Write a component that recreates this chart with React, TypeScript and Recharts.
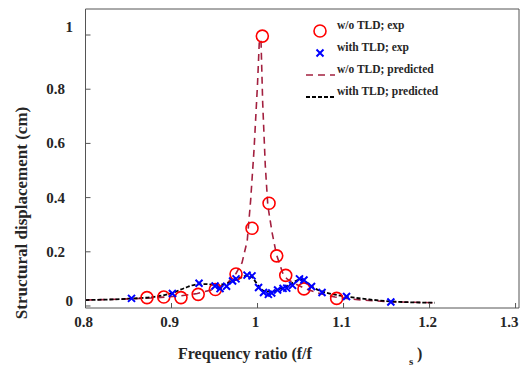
import React from "react";
import { ComposedChart, Line, Scatter, XAxis, YAxis } from "recharts";

// tick values
const xTicks = [0.8, 0.9, 1, 1.1, 1.2, 1.3];
const yTicks = [0, 0.2, 0.4, 0.6, 0.8, 1];

// w/o TLD; exp
const noTldExpFreq = [0.8715, 0.891, 0.911, 0.931, 0.951, 0.975, 0.9936, 1.0056, 1.0134, 1.0223, 1.0328, 1.054, 1.092];
const noTldExpDisp = [0.031, 0.033, 0.031, 0.043, 0.061, 0.118, 0.287, 0.996, 0.379, 0.185, 0.113, 0.063, 0.028];

// with TLD; exp
const tldExpFreq = [
  0.8535, 0.901, 0.932, 0.9506, 0.9564, 0.964, 0.971, 0.975, 0.9878, 0.9936, 1.0012, 1.007,
  1.0126, 1.0165, 1.0233, 1.0297, 1.034, 1.0407, 1.0488, 1.054, 1.0628, 1.075, 1.1035, 1.155,
];
const tldExpDisp = [
  0.028, 0.046, 0.084, 0.074, 0.064, 0.073, 0.092, 0.1, 0.114, 0.111, 0.068, 0.05,
  0.043, 0.048, 0.059, 0.065, 0.066, 0.076, 0.1, 0.096, 0.072, 0.05, 0.035, 0.015,
];

// w/o TLD; predicted
const noTldPredFreq = [
  0.8, 0.84, 0.88, 0.91, 0.93, 0.95, 0.965, 0.975, 0.982, 0.988, 0.992, 0.996, 1.0, 1.002, 1.004,
  1.006, 1.009, 1.012, 1.017, 1.022, 1.03, 1.035, 1.045, 1.055, 1.07, 1.09, 1.12, 1.16, 1.206,
];
const noTldPredDisp = [
  0.022, 0.025, 0.03, 0.037, 0.046, 0.062, 0.085, 0.12, 0.16, 0.24, 0.39, 0.58, 0.82, 0.97, 0.985,
  0.75, 0.52, 0.37, 0.27, 0.19, 0.115, 0.098, 0.08, 0.065, 0.048, 0.033, 0.022, 0.015, 0.012,
];

// with TLD; predicted
const tldPredFreq = [
  0.8, 0.85, 0.88, 0.9, 0.915, 0.93, 0.94, 0.95, 0.96, 0.97, 0.98, 0.988, 0.993, 0.998, 1.003,
  1.008, 1.015, 1.025, 1.035, 1.045, 1.05, 1.058, 1.065, 1.075, 1.09, 1.105, 1.13, 1.16, 1.206,
];
const tldPredDisp = [
  0.022, 0.027, 0.034, 0.047, 0.066, 0.08, 0.081, 0.078, 0.08, 0.09, 0.104, 0.112, 0.108, 0.088, 0.066,
  0.055, 0.053, 0.062, 0.075, 0.093, 0.098, 0.085, 0.068, 0.054, 0.042, 0.034, 0.024, 0.016, 0.012,
];

const pts = (f: number[], d: number[]) => f.map((x, i) => ({ f: x, d: d[i] }));

const FONT = "'Liberation Serif', 'Times New Roman', serif";
const AXIS = "#555";
const TXT = "#262626";
const RED_LINE = "#a3203f";

const Circle = (p: any) => (
  <circle cx={p.cx} cy={p.cy} r={6} fill="none" stroke="#ff0000" strokeWidth={1.6} />
);

const Cross = (p: any) => (
  <path
    d={`M${p.cx - 3.5},${p.cy - 3.5}L${p.cx + 3.5},${p.cy + 3.5}M${p.cx - 3.5},${p.cy + 3.5}L${p.cx + 3.5},${p.cy - 3.5}`}
    stroke="#0000ff"
    strokeWidth={2}
  />
);

const YTick = (p: any) => {
  const v = p.payload.value;
  const dx = v === 0 || v === 1 ? 8 : 0;
  const dy = v === 1 ? -8 : v === 0 ? -5 : 0;
  return (
    <text x={p.x + dx} y={p.y + dy} textAnchor="end" dominantBaseline="central"
      fontFamily={FONT} fontWeight="bold" fontSize={15} fill={TXT}>
      {v}
    </text>
  );
};

const XTick = (p: any) => (
  <text x={p.x - 2} y={p.y} textAnchor="middle" dominantBaseline="central"
    fontFamily={FONT} fontWeight="bold" fontSize={15} fill={TXT}>
    {p.payload.value}
  </text>
);

const XTitle = () => (
  <g fontFamily={FONT} fontWeight="bold" fill={TXT}>
    <text x={178} y={353} fontSize={16} dominantBaseline="central">Frequency ratio (f/f</text>
    <text x={409} y={361} fontSize={11} dominantBaseline="central">s</text>
    <text x={417} y={353} fontSize={16} dominantBaseline="central">)</text>
  </g>
);

const YTitle = () => (
  <text x={21} y={213} transform="rotate(-90 21 213)" textAnchor="middle" dominantBaseline="central"
    fontFamily={FONT} fontWeight="bold" fontSize={17} fill={TXT}>
    Structural displacement (cm)
  </text>
);

const legendRows = [
  { label: "w/o TLD; exp", kind: "circle" },
  { label: "with TLD; exp", kind: "cross" },
  { label: "w/o TLD; predicted", kind: "red" },
  { label: "with TLD; predicted", kind: "black" },
];

function LegendBox() {
  return (
    <svg width={521} height={368} style={{ position: "absolute", left: 0, top: 0, pointerEvents: "none" }}>
      {legendRows.map((r, i) => {
        const ty = 25 + i * 22;
        const my = ty + 6;
        return (
          <g key={r.label}>
            {r.kind === "circle" && <Circle cx={320} cy={my} />}
            {r.kind === "cross" && <Cross cx={320} cy={my} />}
            {r.kind === "red" && (
              <line x1={306} x2={335} y1={my} y2={my} stroke={RED_LINE} strokeWidth={1.6} strokeDasharray="7 5" />
            )}
            {r.kind === "black" && (
              <line x1={306} x2={335} y1={my} y2={my} stroke="#000" strokeWidth={1.8} strokeDasharray="4 2" />
            )}
            <text x={337} y={ty} dominantBaseline="central" fontFamily={FONT} fontWeight="bold" fontSize={11.5} fill={TXT}>
              {r.label}
            </text>
          </g>
        );
      })}
    </svg>
  );
}

export default function App() {
  return (
    <div style={{ position: "relative", width: 521, height: 368, background: "#fff" }}>
      <style>{"body{margin:0}"}</style>
      <ComposedChart width={521} height={368} margin={{ top: 8, right: 1, bottom: 0, left: 0 }}>
        <XAxis
          dataKey="f"
          type="number"
          domain={[0.8, 1.304]}
          allowDataOverflow
          ticks={xTicks}
          height={60}
          tickSize={-5}
          tickMargin={19}
          tick={<XTick />}
          stroke={AXIS}
          label={{ content: <XTitle /> }}
        />
        <XAxis
          xAxisId="top"
          orientation="top"
          type="number"
          domain={[0.8, 1.304]}
          allowDataOverflow
          ticks={xTicks}
          height={1}
          tickSize={-5}
          tick={false}
          stroke={AXIS}
        />
        <YAxis
          type="number"
          domain={[-0.0074, 1.096]}
          allowDataOverflow
          ticks={yTicks}
          width={85.5}
          tickSize={-5}
          tickMargin={25.5}
          tick={<YTick />}
          stroke={AXIS}
          label={{ content: <YTitle /> }}
        />
        <YAxis
          yAxisId="right"
          orientation="right"
          type="number"
          domain={[-0.0074, 1.096]}
          allowDataOverflow
          ticks={yTicks}
          width={1}
          tickSize={-5}
          tick={false}
          stroke={AXIS}
        />
        <Line
          data={pts(noTldPredFreq, noTldPredDisp)}
          dataKey="d"
          type="linear"
          stroke={RED_LINE}
          strokeWidth={1.6}
          strokeDasharray="7 5"
          dot={false}
          isAnimationActive={false}
        />
        <Line
          data={pts(tldPredFreq, tldPredDisp)}
          dataKey="d"
          type="monotone"
          stroke="#000"
          strokeWidth={1.8}
          strokeDasharray="4 2"
          dot={false}
          isAnimationActive={false}
        />
        <Scatter data={pts(noTldExpFreq, noTldExpDisp)} dataKey="d" shape={Circle} isAnimationActive={false} />
        <Scatter data={pts(tldExpFreq, tldExpDisp)} dataKey="d" shape={Cross} isAnimationActive={false} />
      </ComposedChart>
      <LegendBox />
    </div>
  );
}
